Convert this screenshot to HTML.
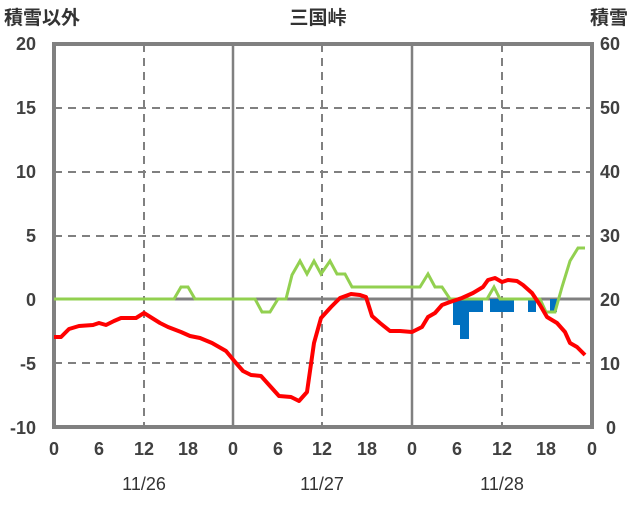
<!DOCTYPE html><html><head><style>body{margin:0;background:#fff}svg text{font-family:"Liberation Sans","Noto Sans CJK JP",sans-serif;font-size:18px;fill:#404040;font-weight:bold}svg text.t{font-size:19px;fill:#333}svg text.d{font-weight:normal;fill:#333}</style></head><body>
<svg width="636" height="501" xmlns="http://www.w3.org/2000/svg">
<g stroke="#808080" stroke-width="2" stroke-dasharray="8,6">
<line x1="54" x2="592" y1="108" y2="108"/><line x1="54" x2="592" y1="172" y2="172"/><line x1="54" x2="592" y1="236" y2="236"/><line x1="54" x2="592" y1="363" y2="363"/>
<line x1="144" x2="144" y1="44" y2="427"/><line x1="322" x2="322" y1="44" y2="427"/><line x1="502" x2="502" y1="44" y2="427"/>
</g>
<g stroke="#808080" stroke-width="2.5"><line x1="233" x2="233" y1="44" y2="427"/><line x1="412" x2="412" y1="44" y2="427"/><line x1="54" x2="592" y1="299" y2="299" stroke-width="3"/></g>
<rect x="54" y="44" width="538" height="383" fill="none" stroke="#808080" stroke-width="4"/>
<g fill="#0070c0"><rect x="453" y="299" width="7" height="26"/><rect x="460" y="299" width="9" height="40"/><rect x="469" y="299" width="14" height="13"/><rect x="490" y="299" width="24" height="13"/><rect x="528" y="299" width="8" height="13"/><rect x="550" y="299" width="7" height="13"/></g>
<polyline fill="none" stroke="#92d050" stroke-width="3" points="54,299 174,299 181,287 188,287 195,299 255,299 262,312 270,312 278,299 286,299 292,275 300,261 307,274 314,261 321,274 330,261 337,274 345,274 352,287 412,287 420,287 428,274 435,287 442,287 450,299 487,299 494,287 500,299 540,299 546,312 555,312 562,287 570,261 578,248 585,248"/>
<polyline fill="none" stroke="#ff0000" stroke-width="4" stroke-linejoin="round" points="54,337 61,337 69,329 79,326 93,325 99,323 106,325 114,321 121,318 136,318 144,313 160,323 168,327 181,332 190,336 200,338 212,343 226,351 236,363 243,371 251,375 261,376 270,386 279,396 291,397 299,401 307,392 314,343 321,318 331,307 340,298 351,294 360,295 366,297 372,316 380,323 390,331 400,331 412,332 422,327 428,317 435,313 442,305 450,302 462,298 473,293 483,287 488,280 495,278 502,282 508,280 517,281 523,285 532,293 540,305 547,317 557,323 565,332 570,343 577,347 585,355"/>
<g text-anchor="end"><text x="36" y="50">20</text><text x="36" y="114">15</text><text x="36" y="178">10</text><text x="36" y="242">5</text><text x="36" y="306">0</text><text x="36" y="370">-5</text><text x="36" y="434">-10</text></g>
<g text-anchor="start"><text x="600" y="50">60</text><text x="600" y="114">50</text><text x="600" y="178">40</text><text x="600" y="242">30</text><text x="600" y="306">20</text><text x="600" y="370">10</text><text x="606" y="434">0</text></g>
<g text-anchor="middle"><text x="54" y="455">0</text><text x="99" y="455">6</text><text x="144" y="455">12</text><text x="188" y="455">18</text><text x="233" y="455">0</text><text x="278" y="455">6</text><text x="322" y="455">12</text><text x="367" y="455">18</text><text x="412" y="455">0</text><text x="457" y="455">6</text><text x="502" y="455">12</text><text x="546" y="455">18</text><text x="592" y="455">0</text>
<text class="d" x="144" y="490">11/26</text><text class="d" x="322" y="490">11/27</text><text class="d" x="502" y="490">11/28</text><text class="t" x="318" y="24">三国峠</text></g>
<text class="t" x="4" y="24">積雪以外</text><text class="t" x="590" y="24">積雪</text>
</svg></body></html>
